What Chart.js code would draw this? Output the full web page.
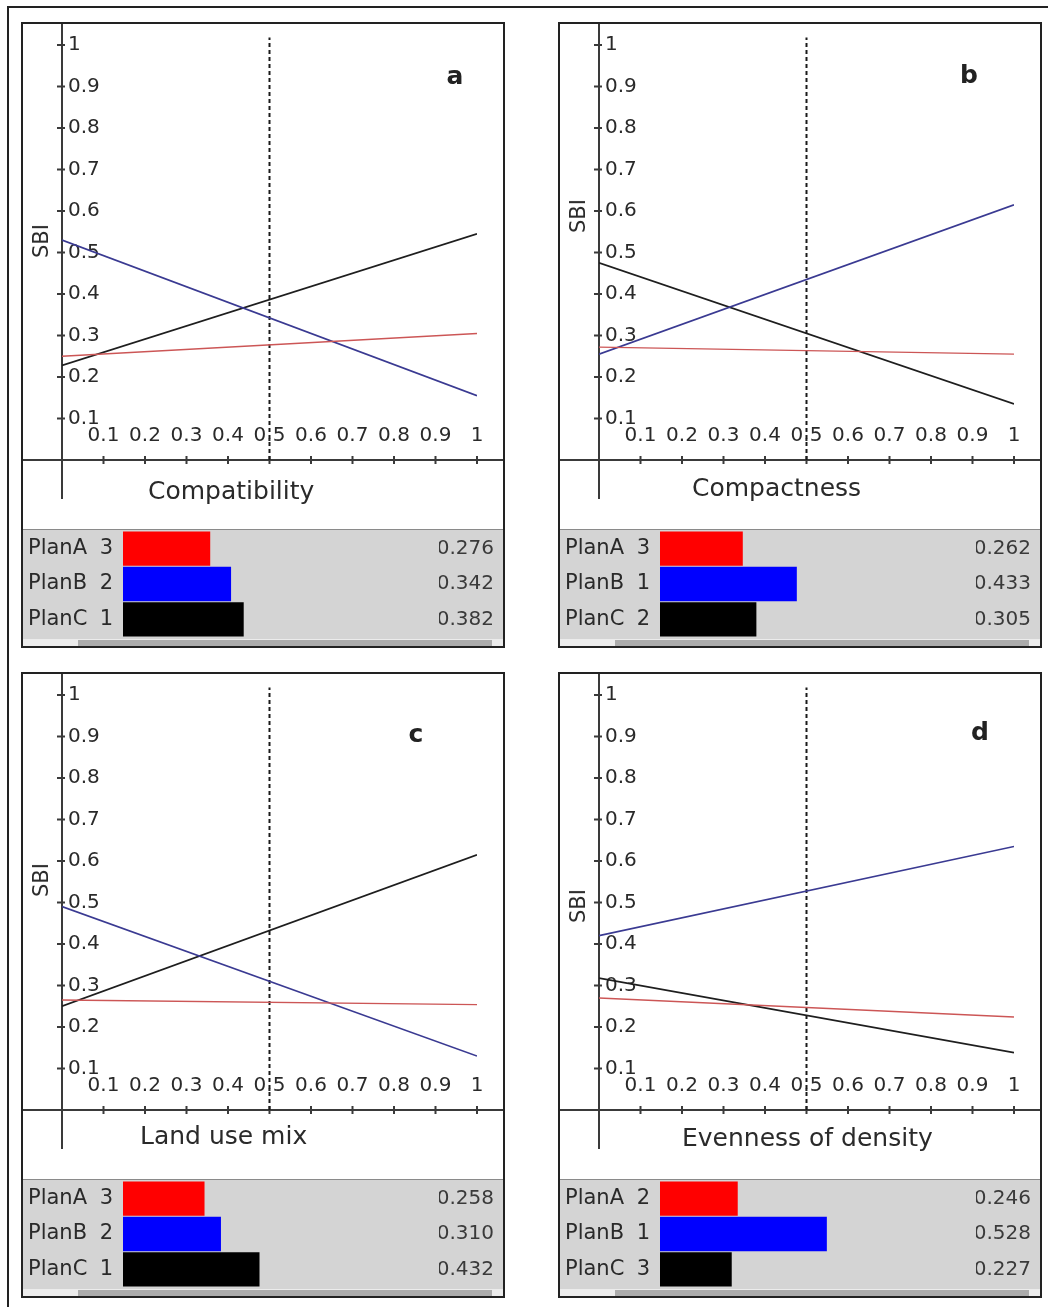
<!DOCTYPE html>
<html>
<head>
<meta charset="utf-8">
<script src="https://cdn.jsdelivr.net/npm/chart.js@4.4.0/dist/chart.umd.min.js"></script>
<style>
  html, body { margin: 0; padding: 0; background: #fff; overflow: hidden; }
  body { width: 1048px; height: 1307px; position: relative; font-family: "DejaVu Sans", sans-serif; color: #2a2a2a; }
  .frame { position: absolute; left: 7px; top: 6px; width: 1100px; height: 1400px; border: 2px solid #222; }
  .panel { position: absolute; width: 484px; height: 626px; border: 2px solid #222; box-sizing: border-box; background: #fff; overflow: hidden; }
  .panel canvas { position: absolute; left: 0; }
  .letter { position: absolute; font-weight: bold; font-size: 25px; color: #222; transform: translate(-50%, -50%); }
  .ytitle { position: absolute; font-size: 21px; transform: translate(-50%, -50%) rotate(-90deg); }
  .xtitle { position: absolute; font-size: 25px; transform: translateY(-50%); white-space: nowrap; }
  .barbox { position: absolute; left: 0; top: 505px; width: 480px; height: 117px; background: #d4d4d4; border-top: 1px solid #8a8a8a; }
  .scroll { position: absolute; left: 0; top: 109px; width: 480px; height: 8px; background: #ececec; }
  .thumb { position: absolute; left: 55px; width: 414px; top: 1px; height: 7px; background: #acacac; }
</style>
</head>
<body>
<div class="frame"></div>
<script>
// panel texts
const panelLetters = ['a', 'b', 'c', 'd'];
const axisTitles = ['Compatibility', 'Compactness', 'Land use mix', 'Evenness of density'];
const planNames = ['PlanA', 'PlanB', 'PlanC'];

// SBI at weight 0 and weight 1
const planAStart = [0.250, 0.272, 0.265, 0.270];
const planAEnd   = [0.305, 0.255, 0.254, 0.224];
const planBStart = [0.530, 0.255, 0.490, 0.420];
const planBEnd   = [0.155, 0.615, 0.130, 0.635];
const planCStart = [0.228, 0.475, 0.250, 0.318];
const planCEnd   = [0.545, 0.135, 0.615, 0.138];

// SBI at current weight and ranks (bar strip)
const sbiA = [0.276, 0.262, 0.258, 0.246];
const sbiB = [0.342, 0.433, 0.310, 0.528];
const sbiC = [0.382, 0.305, 0.432, 0.227];
const rankA = [3, 3, 3, 2];
const rankB = [2, 1, 2, 1];
const rankC = [1, 2, 1, 3];

const tickValues = [0.1, 0.2, 0.3, 0.4, 0.5, 0.6, 0.7, 0.8, 0.9, 1];
const tickLabels = ['0.1', '0.2', '0.3', '0.4', '0.5', '0.6', '0.7', '0.8', '0.9', '1'];
const currentWeight = 0.5;
const weightRange = [0, 1];

// layout of the four boxes
const panelPos = [[21, 22], [558, 22], [21, 672], [558, 672]];
const letterPos = [[432, 51], [409, 50], [393, 59], [420, 57]];
const sbiPos = [[18, 217], [18, 192], [18, 206], [18, 232]];
const xTitlePos = [[125, 466], [132, 463], [117, 461], [122, 463]];

Chart.defaults.font.family = '"DejaVu Sans", sans-serif';
Chart.defaults.color = '#2a2a2a';

// axes crossing at the origin, with ticks across the line
const crossAxes = {
    id: 'crossAxes',
    beforeDatasetsDraw(chart) {
        const { ctx, scales: { x, y } } = chart;
        const x0 = x.getPixelForValue(0);
        const y0 = y.getPixelForValue(0);
        ctx.save();
        ctx.strokeStyle = '#3a3a3a';
        ctx.lineWidth = 2;
        ctx.beginPath();
        ctx.moveTo(0, y0); ctx.lineTo(chart.width, y0);
        ctx.moveTo(x0, 0); ctx.lineTo(x0, y0 + 39);
        x.ticks.forEach(t => {
            const px = x.getPixelForValue(t.value);
            ctx.moveTo(px, y0 - 4); ctx.lineTo(px, y0 + 4);
        });
        y.ticks.forEach(t => {
            const py = y.getPixelForValue(t.value);
            ctx.moveTo(x0 - 5, py); ctx.lineTo(x0 + 3, py);
        });
        ctx.stroke();
        ctx.restore();
    }
};

// scales take no room of their own: the chart area is set by the padding
const noRoom = scale => {
    if (scale.isHorizontal()) scale.height = 0; else scale.width = 0;
    scale.paddingLeft = scale.paddingRight = scale.paddingTop = scale.paddingBottom = 0;
};

const fixWidth = w => scale => {
    scale.width = w;
    scale.paddingTop = 0;
    scale.paddingBottom = 0;
};

const tickAxis = (padding) => ({
    type: 'linear',
    min: 0,
    max: 1,
    grid: { display: false },
    border: { display: false },
    afterBuildTicks: s => { s.ticks = tickValues.map(v => ({ value: v })); },
    afterFit: noRoom,
    ticks: {
        mirror: true,
        padding: padding,
        autoSkip: false,
        maxRotation: 0,
        color: '#2a2a2a',
        font: { size: 20 },
        callback: (v, k) => tickLabels[k]
    }
});

panelLetters.forEach((letter, i) => {
    const p = document.createElement('div');
    p.className = 'panel';
    p.style.left = panelPos[i][0] + 'px';
    p.style.top = panelPos[i][1] + 'px';
    p.innerHTML =
        '<canvas class="lc" width="480" height="504" style="top:0"></canvas>' +
        `<div class="letter" style="left:${letterPos[i][0]}px;top:${letterPos[i][1]}px">${letter}</div>` +
        `<div class="ytitle" style="left:${sbiPos[i][0]}px;top:${sbiPos[i][1]}px">SBI</div>` +
        `<div class="xtitle" style="left:${xTitlePos[i][0]}px;top:${xTitlePos[i][1]}px">${axisTitles[i]}</div>` +
        '<div class="barbox"><canvas class="bc" width="480" height="106" style="top:1px"></canvas>' +
        '<div class="scroll"><div class="thumb"></div></div></div>';
    document.body.appendChild(p);

    new Chart(p.querySelector('.lc'), {
        type: 'line',
        data: {
            datasets: [
                {
                    label: 'PlanA',
                    data: [{ x: weightRange[0], y: planAStart[i] }, { x: weightRange[1], y: planAEnd[i] }],
                    borderColor: '#cc5656',
                    borderWidth: 1.4
                },
                {
                    label: 'PlanB',
                    data: [{ x: weightRange[0], y: planBStart[i] }, { x: weightRange[1], y: planBEnd[i] }],
                    borderColor: '#3a3a92',
                    borderWidth: 1.7
                },
                {
                    label: 'PlanC',
                    data: [{ x: weightRange[0], y: planCStart[i] }, { x: weightRange[1], y: planCEnd[i] }],
                    borderColor: '#1e1e1e',
                    borderWidth: 1.7
                },
                {
                    label: 'weight',
                    data: [{ x: currentWeight, y: 0 }, { x: currentWeight, y: 1.018 }],
                    borderColor: '#1a1a1a',
                    borderWidth: 2,
                    borderDash: [4, 3],
                    clip: false
                }
            ]
        },
        options: {
            responsive: false,
            animation: false,
            layout: { padding: { left: 39, right: 26, top: 21, bottom: 68 } },
            plugins: { legend: { display: false }, tooltip: { enabled: false } },
            elements: { point: { radius: 0, hoverRadius: 0 }, line: { tension: 0 } },
            scales: {
                x: tickAxis(12),
                y: tickAxis(6)
            }
        },
        plugins: [crossAxes]
    });

    new Chart(p.querySelector('.bc'), {
        type: 'bar',
        data: {
            labels: planNames,
            datasets: [{
                data: [sbiA[i], sbiB[i], sbiC[i]],
                backgroundColor: ['#ff0000', '#0000ff', '#000000'],
                barPercentage: 1,
                categoryPercentage: 0.97,
                yAxisID: 'y'
            }]
        },
        options: {
            indexAxis: 'y',
            responsive: false,
            animation: false,
            layout: { padding: { left: 5, right: 9, top: 0, bottom: 0 } },
            plugins: { legend: { display: false }, tooltip: { enabled: false } },
            scales: {
                y: {
                    type: 'category', axis: 'y', position: 'left', weight: 1, offset: true,
                    grid: { display: false }, border: { display: false },
                    ticks: { crossAlign: 'far', padding: 0, color: '#2a2a2a', font: { size: 21 } },
                    afterFit: fixWidth(65)
                },
                yRank: {
                    type: 'category', axis: 'y', position: 'left', weight: 0, offset: true,
                    labels: [rankA[i], rankB[i], rankC[i]].map(String),
                    grid: { display: false }, border: { display: false },
                    ticks: { padding: 2, color: '#2a2a2a', font: { size: 21 } },
                    afterFit: fixWidth(30)
                },
                y2: {
                    type: 'category', axis: 'y', position: 'right', offset: true,
                    labels: [sbiA[i], sbiB[i], sbiC[i]].map(v => v.toFixed(3)),
                    grid: { display: false }, border: { display: false },
                    ticks: { crossAlign: 'far', padding: 0, color: '#3a3a3a', font: { size: 20 } },
                    afterFit: fixWidth(55)
                },
                x: { display: false, min: 0, max: 1 }
            }
        }
    });
});
</script>
</body>
</html>
